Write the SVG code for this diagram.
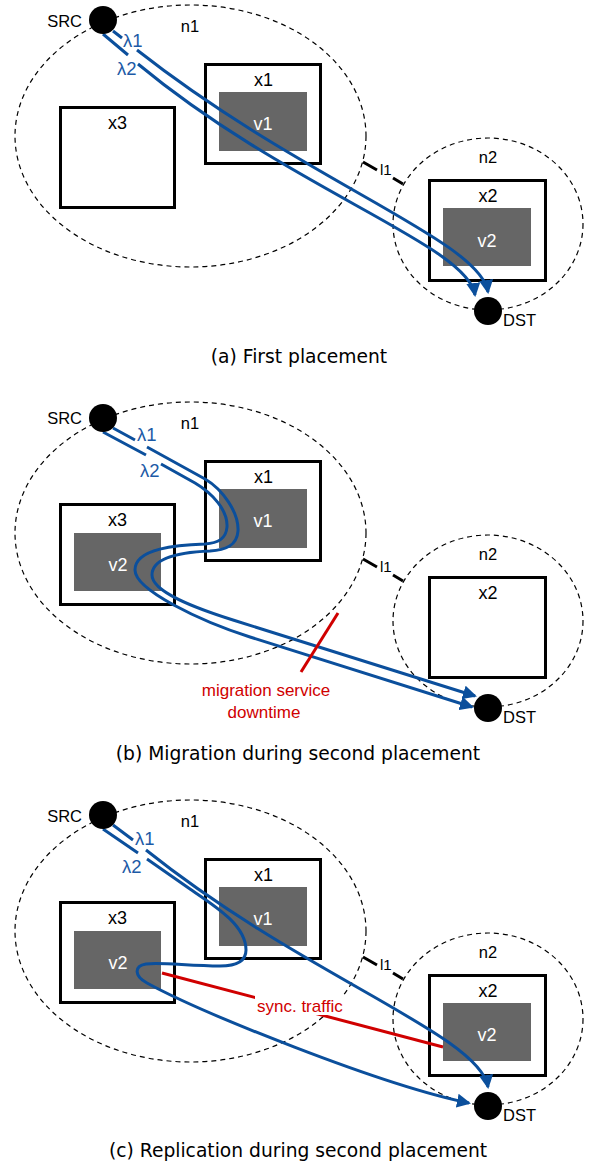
<svg xmlns="http://www.w3.org/2000/svg" width="593" height="1168" viewBox="0 0 593 1168">
<style>
.net{fill:none;stroke:#000;stroke-width:1.2;stroke-dasharray:5 4}
.box{fill:#fff;stroke:#000;stroke-width:3}
.vm{fill:#666;stroke:none}
.ep{fill:#000}
.flow{fill:none;stroke:#0b4f9c;stroke-width:3}
.arr{marker-end:url(#ah)}
.red{fill:none;stroke:#d00000;stroke-width:3}
.link{fill:none;stroke:#000;stroke-width:3}
.t{font-family:"Liberation Sans",Arial,sans-serif;fill:#000}
.s16{font-size:16.5px}
.s17{font-size:18px}
.w{fill:#fff}
.mid{text-anchor:middle}
.end{text-anchor:end}
.lam{font-family:"Liberation Sans",Arial,sans-serif;font-size:18.5px;fill:#1c5aa6}
.rt{font-family:"Liberation Sans",Arial,sans-serif;font-size:17px;fill:#d00000}
.cap{font-family:"DejaVu Sans",sans-serif;font-size:18.7px;fill:#000;text-anchor:middle}
</style>
<defs>
<marker id="ah" viewBox="0 0 14 14" refX="12" refY="7" markerWidth="14" markerHeight="14" markerUnits="userSpaceOnUse" orient="auto">
<path d="M0,0 L14,7 L0,14 z" fill="#0b4f9c"/>
</marker>
</defs>
<rect width="593" height="1168" fill="#fff"/>

<!-- Panel (a) -->
<g id="panel-a">
<g id="n1-a"><ellipse class="net" cx="190.5" cy="136" rx="175.5" ry="131"/><text class="t s16 mid" x="190" y="32">n1</text></g>
<g id="n2-a"><ellipse class="net" cx="488" cy="224" rx="95" ry="86"/><text class="t s16 mid" x="488" y="163">n2</text></g>
<g id="x1-a"><rect class="box" x="205.5" y="64.5" width="115" height="99"/><text class="t s17 mid" x="263.5" y="86">x1</text></g>
<g id="v1-a"><rect class="vm" x="219" y="92" width="88" height="59"/><text class="t s17 mid w" x="263" y="130">v1</text></g>
<g id="x3-a"><rect class="box" x="60.5" y="107.5" width="114" height="100"/><text class="t s17 mid" x="117.5" y="129">x3</text></g>
<g id="x2-a"><rect class="box" x="429.5" y="180.5" width="116" height="100"/><text class="t s17 mid" x="488" y="202">x2</text></g>
<g id="v2-a"><rect class="vm" x="443" y="208" width="88" height="58"/><text class="t s17 mid w" x="487" y="247">v2</text></g>
<g id="connectors-a">
<path class="link" d="M363,162 L377,170 M393,178 L403,184"/>
<text class="t" style="font-size:15px" x="380" y="175">l1</text>
<path class="flow arr" d="M113,31 L122,38 M137,50 C305,182 480,240 488,292"/>
<path class="flow arr" d="M103,34 L128,55 M138,64 C290,190 468,245 475,295"/>
<text class="lam" x="123" y="47">λ1</text>
<text class="lam" x="117" y="75">λ2</text>
</g>
<g id="src-a"><circle class="ep" cx="103" cy="20" r="14"/><text class="t s16 end" x="82" y="27">SRC</text></g>
<g id="dst-a"><circle class="ep" cx="488" cy="311" r="14"/><text class="t s16" x="503" y="326">DST</text></g>
<text class="cap" x="299" y="363">(a) First placement</text>
</g>

<!-- Panel (b) -->
<g id="panel-b" transform="translate(0,397)">
<g id="n1-b"><ellipse class="net" cx="190.5" cy="136" rx="175.5" ry="131"/><text class="t s16 mid" x="190" y="32">n1</text></g>
<g id="n2-b"><ellipse class="net" cx="488" cy="224" rx="95" ry="86"/><text class="t s16 mid" x="488" y="163">n2</text></g>
<g id="x1-b"><rect class="box" x="205.5" y="64.5" width="115" height="99"/><text class="t s17 mid" x="263.5" y="86">x1</text></g>
<g id="v1-b"><rect class="vm" x="219" y="92" width="88" height="59"/><text class="t s17 mid w" x="263" y="130">v1</text></g>
<g id="x3-b"><rect class="box" x="60.5" y="107.5" width="114" height="100"/><text class="t s17 mid" x="117.5" y="129">x3</text></g>
<g id="v2-b"><rect class="vm" x="74" y="136" width="87" height="58"/><text class="t s17 mid w" x="118" y="174">v2</text></g>
<g id="x2-b"><rect class="box" x="429.5" y="180.5" width="116" height="100"/><text class="t s17 mid" x="488" y="202">x2</text></g>
<g id="connectors-b">
<path class="link" d="M363,162 L377,170 M393,178 L403,184"/>
<text class="t" style="font-size:15px" x="380" y="175">l1</text>
<path class="flow arr" d="M113,31 L135,43 M147,50 L205,82 C222,92 239,115 238,134 C237,149 225,153 210,154 C185,155 152,159 152,178 C152,195 195,211 233,223 L475,299"/>
<path class="flow arr" d="M103,35 L146,58 M161,67 L195,86 C212,96 228,113 227,130 C226,142 218,146 205,147 C178,148 135,151 135,173 C135,193 200,224 250,240 L472,310"/>
<text class="lam" x="137" y="44">λ1</text>
<text class="lam" x="140" y="80">λ2</text>
<path class="red" d="M338,216 L301,275"/>
<text class="rt mid" x="266" y="299">migration service</text>
<text class="rt mid" x="264" y="321">downtime</text>
</g>
<g id="src-b"><circle class="ep" cx="103" cy="21" r="14"/><text class="t s16 end" x="82" y="27">SRC</text></g>
<g id="dst-b"><circle class="ep" cx="488" cy="311" r="14"/><text class="t s16" x="503" y="326">DST</text></g>
<text class="cap" x="298" y="363">(b) Migration during second placement</text>
</g>

<!-- Panel (c) -->
<g id="panel-c" transform="translate(0,795)">
<g id="n1-c"><ellipse class="net" cx="190.5" cy="136" rx="175.5" ry="131"/><text class="t s16 mid" x="190" y="32">n1</text></g>
<g id="n2-c"><ellipse class="net" cx="488" cy="224" rx="95" ry="86"/><text class="t s16 mid" x="488" y="163">n2</text></g>
<g id="x1-c"><rect class="box" x="205.5" y="64.5" width="115" height="99"/><text class="t s17 mid" x="263.5" y="86">x1</text></g>
<g id="v1-c"><rect class="vm" x="219" y="92" width="88" height="59"/><text class="t s17 mid w" x="263" y="130">v1</text></g>
<g id="x3-c"><rect class="box" x="60.5" y="107.5" width="114" height="100"/><text class="t s17 mid" x="117.5" y="129">x3</text></g>
<g id="v2-c3"><rect class="vm" x="74" y="136" width="87" height="58"/><text class="t s17 mid w" x="118" y="174">v2</text></g>
<g id="x2-c"><rect class="box" x="429.5" y="180.5" width="116" height="100"/><text class="t s17 mid" x="488" y="202">x2</text></g>
<g id="v2-c2"><rect class="vm" x="443" y="208" width="88" height="58"/><text class="t s17 mid w" x="487" y="246">v2</text></g>
<g id="connectors-c">
<path class="link" d="M363,162 L377,170 M393,178 L403,184"/>
<text class="t" style="font-size:15px" x="380" y="175">l1</text>
<path class="red" d="M162,178 L443,252"/>
<rect x="255" y="200" width="90" height="20" fill="#fff"/>
<text class="rt" x="257" y="217">sync. traffic</text>
<path class="flow arr" d="M113,30 L133,45 M146,55 C305,182 480,240 488,292"/>
<path class="flow arr" d="M103,34 L138,58 M147,64 L190,94 C215,111 246,130 246,155 C246,167 235,171 220,171 C190,171 160,167 146,169 C134,171 134,181 147,188 C200,217 380,290 469,308"/>
<text class="lam" x="135" y="50">λ1</text>
<text class="lam" x="122" y="78">λ2</text>
</g>
<g id="src-c"><circle class="ep" cx="103" cy="20" r="14"/><text class="t s16 end" x="82" y="27">SRC</text></g>
<g id="dst-c"><circle class="ep" cx="488" cy="311" r="14"/><text class="t s16" x="503" y="326">DST</text></g>
<text class="cap" x="298" y="362">(c) Replication during second placement</text>
</g>
</svg>
